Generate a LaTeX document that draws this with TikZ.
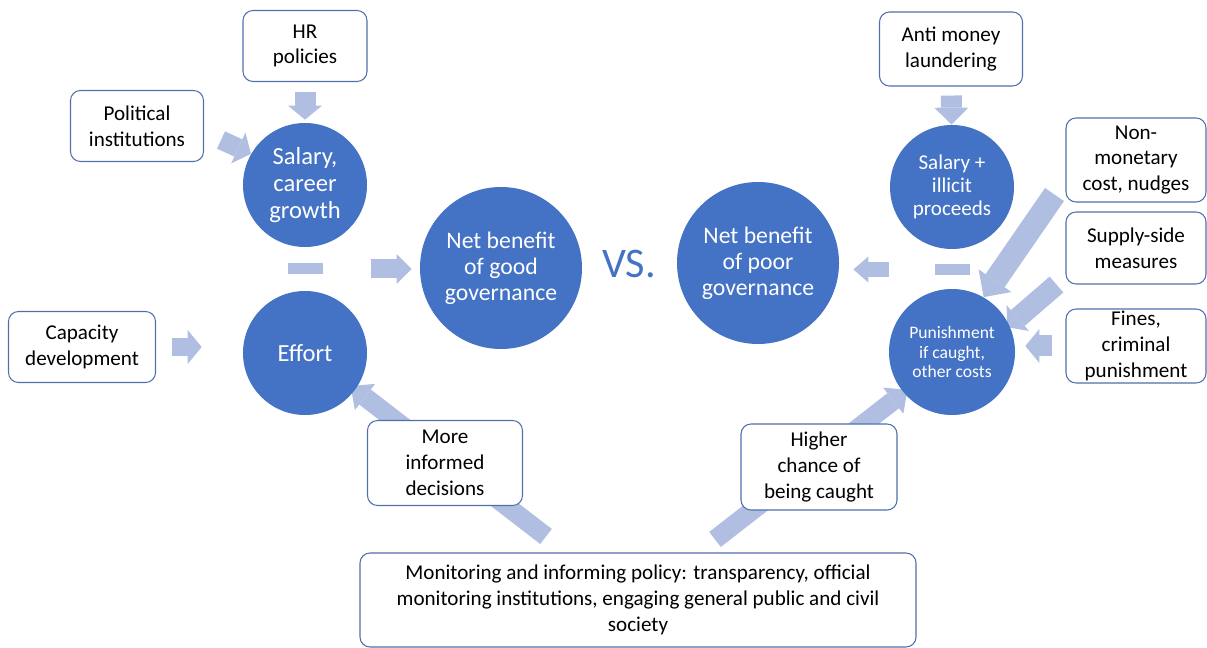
\documentclass[tikz,border=0pt]{standalone}
\usepackage{fontspec}
\setmainfont{Carlito}
\usepackage{xcolor}
\usetikzlibrary{arrows.meta,calc,positioning}
\definecolor{cblue}{HTML}{4472C4}
\definecolor{ablue}{HTML}{B0BFE1}
\definecolor{bdr}{HTML}{4F6FAD}
\pgfdeclarelayer{bg}
\pgfsetlayers{bg,main}
\tikzset{
	circ/.style={circle, fill=cblue, text=white, inner sep=0pt, align=center, minimum size=24.8mm, font=\fontsize{14}{15.5}\selectfont},
	bigcirc/.style={circ, minimum size=32.4mm, font=\fontsize{13.5}{14.8}\selectfont},
	box/.style={draw=bdr, line width=0.6pt, fill=white, rounded corners=2mm, align=center, inner sep=0pt, font=\fontsize{12}{14.7}\selectfont},
	blk/.style={draw=ablue, line width=4.2mm, -{Triangle[length=2.8mm,width=6.8mm,line width=0pt]}},
	minusbar/.style={fill=ablue, minimum width=7mm, minimum height=2.2mm, inner sep=0pt},
}
\begin{document}
\begin{tikzpicture}[x=0.2mm,y=-0.2mm]
	\useasboundingbox (0,0) rectangle (1207,648);
	% circles
	\node[circ] (sal) at (305,185) {Salary,\\career\\growth};
	\node[circ] (eff) at (305,353) {Effort};
	\node[bigcirc] (good) at (501,268) {Net benefit\\of good\\governance};
	\node[bigcirc] (poor) at (758,263) {Net benefit\\of poor\\governance};
	\node[circ, font=\fontsize{12}{13.2}\selectfont] (ill) at (952,187) {Salary +\\illicit\\proceeds};
	\node[circ, minimum size=25.2mm, font=\fontsize{10}{11.3}\selectfont] (pun) at (952,352) {Punishment\\if caught,\\other costs};
	\node[text=cblue, font=\fontsize{24}{24}\selectfont] (vs) at (629,264) {VS.};
	\node[minusbar] (mL) at ($(sal)!.5!(eff)$) {};
	\node[minusbar] (mR) at ($(ill)!.5!(pun)$) {};
	% boxes
	\node[box, minimum width=24.8mm, minimum height=14.2mm] (hr) at (305,46) {HR\\policies};
	\node[box, minimum width=26.6mm, minimum height=14.2mm] (pol) at (137,126) {Political\\institutions};
	\node[box, minimum width=29.4mm, minimum height=14.2mm] (cap) at (82,347) {Capacity\\development};
	\node[box, minimum width=28.6mm, minimum height=14.8mm] (aml) at (951,49) {Anti money\\laundering};
	\node[box, minimum width=28mm, minimum height=16.8mm] (nm) at (1136,160) {Non-\\monetary\\cost, nudges};
	\node[box, minimum width=28mm, minimum height=14.4mm] (sp) at (1136,248) {Supply-side\\measures};
	\node[box, minimum width=28mm, minimum height=14.8mm] (fin) at (1136,346) {Fines,\\criminal\\punishment};
	\node[box, minimum width=31mm, minimum height=17mm] (mid) at (445,463) {More\\informed\\decisions};
	\node[box, minimum width=31.2mm, minimum height=17.2mm] (hig) at (819,467) {Higher\\chance of\\being caught};
	\node[box, minimum width=111.2mm, minimum height=18.8mm] (mon) at (638,600) {Monitoring and informing policy: transparency, official\\monitoring institutions, engaging general public and civil\\society};
	% block arrows
	\begin{pgfonlayer}{bg}
	\draw[blk, shorten <=1.9mm, shorten >=0.6mm] (hr) -- (sal);
	\draw[blk, shorten <=1.8mm, -{Triangle[length=3.4mm,width=6.8mm,line width=0pt]}] (aml) -- (ill);
	\draw[blk, line width=3.8mm] ($(pol.east)+(17,14)$) -- (sal.150);
	\draw[blk, line width=3.8mm, -{Triangle[length=3mm,width=6mm,line width=0pt]}, shorten <=9.7mm, shorten >=1.6mm] (mL.east) -- (mL.east -| good.west);
	\draw[blk, line width=3.6mm, shorten <=3.2mm, shorten >=8.2mm] (cap.east) -- (cap.east -| eff.west);
	\draw[blk, line width=3mm, -{Triangle[length=3mm,width=5.2mm,line width=0pt]}, shorten <=9.1mm, shorten >=2.8mm] (mR.west) -- (mR.west -| poor.east);
	\draw[blk, line width=4.6mm, -{Triangle[length=4mm,width=8mm,line width=0pt]}] ($(nm.south west)+(-11,-8)$) -- (pun.60);
	\draw[blk, shorten >=-0.6mm] ($(sp.south west)+(-9,0)$) -- (pun.25);
	\draw[blk, shorten <=2.6mm, shorten >=2mm] (fin.west) -- (fin.west -| pun.east);
	\draw[blk, line width=3.8mm, -{Triangle[length=3.6mm,width=6.6mm,line width=0pt]}, shorten >=-1.2mm] ($(mon.north)+(-92,-16)$) -- (eff.-36);
	\draw[blk, line width=3.8mm, -{Triangle[length=3.6mm,width=6.6mm,line width=0pt]}, shorten >=-1mm] ($(mon.north)+(77,-13)$) -- (pun.220);
	\end{pgfonlayer}
\end{tikzpicture}
\end{document}
